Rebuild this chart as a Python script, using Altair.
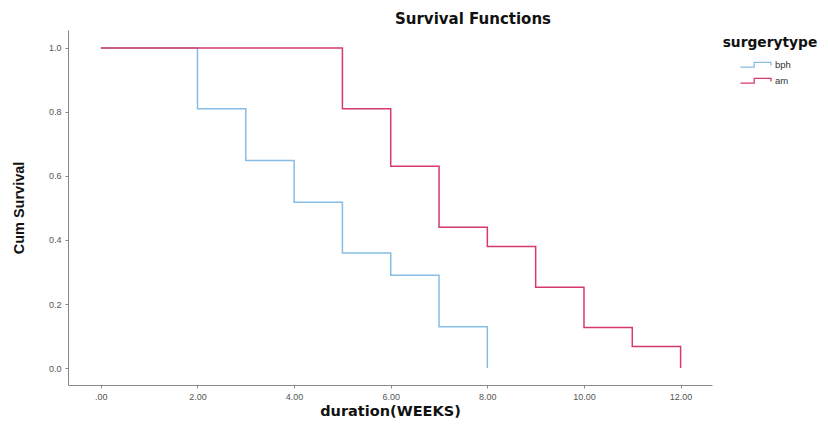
import altair as alt
import pandas as pd

bph_time = [0, 2, 3, 4, 5, 6, 7, 8]
bph_surv = [1.0, 0.81, 0.648, 0.518, 0.359, 0.29, 0.129, 0.0]
am_time = [0, 5, 6, 7, 8, 9, 10, 11, 12]
am_surv = [1.0, 0.81, 0.63, 0.44, 0.38, 0.252, 0.127, 0.067, 0.0]
groups = ["bph", "am"]
colors = ["#86bde3", "#d63a6c"]
x_ticks = [0, 2, 4, 6, 8, 10, 12]
y_ticks = [0.0, 0.2, 0.4, 0.6, 0.8, 1.0]

df = pd.concat([
    pd.DataFrame({"time": bph_time, "surv": bph_surv, "surgerytype": "bph"}),
    pd.DataFrame({"time": am_time, "surv": am_surv, "surgerytype": "am"}),
])

FONT = "Liberation Sans"
WIDE = "DejaVu Sans"

chart = alt.Chart(df).mark_line(interpolate="step-after", strokeWidth=1.5).encode(
    x=alt.X("time:Q",
            scale=alt.Scale(domain=[-0.68, 12.65], nice=False, zero=False),
            axis=alt.Axis(values=x_ticks, title="duration(WEEKS)",
                          labelExpr="datum.value == 0 ? '.00' : format(datum.value, '.2f')",
                          grid=False, tickSize=3, labelPadding=4,
                          labelFontSize=9, labelColor="#555", domainColor="#888",
                          tickColor="#888", titleFontSize=14.5, titleFontWeight="bold",
                          titleColor="#111", titlePadding=3, labelFont=FONT, titleFont=WIDE)),
    y=alt.Y("surv:Q",
            scale=alt.Scale(domain=[-0.053, 1.056], nice=False, zero=False),
            axis=alt.Axis(values=y_ticks, format=".1f", title="Cum Survival",
                          grid=False, tickSize=3, labelPadding=4,
                          labelFontSize=9, labelColor="#555", domainColor="#888",
                          tickColor="#888", titleFontSize=14.5, titleFontWeight="bold",
                          titleColor="#111", titlePadding=22, labelFont=FONT, titleFont=FONT)),
    color=alt.Color("surgerytype:N",
                    scale=alt.Scale(domain=groups, range=colors),
                    legend=alt.Legend(title="surgerytype", orient="none",
                                      legendX=655, legendY=6,
                                      titleFontSize=13.8, titleFontWeight="bold",
                                      titleColor="#111", titleAnchor="middle",
                                      titlePadding=8,
                                      labelFontSize=9.5, labelColor="#333",
                                      symbolType="M-2.6,0.4H-0.3V-0.4H2.5V0.1",
                                      symbolFillColor="transparent",
                                      symbolStrokeWidth=1.3, symbolSize=144,
                                      labelOffset=12, rowPadding=4,
                                      titleFont=WIDE, labelFont=FONT)),
    detail="surgerytype:N",
    order="time:Q",
).properties(
    width=644, height=355,
    title=alt.TitleParams("Survival Functions", anchor="middle", dx=83,
                          fontSize=15, fontWeight="bold", font=WIDE,
                          color="#111", offset=3),
    autosize=alt.AutoSizeParams(type="none"),
    padding={"left": 60, "top": 22, "right": 108, "bottom": 34},
).configure_view(stroke=None)

chart.save("out.html", embed_options={"renderer": "svg", "actions": False})
